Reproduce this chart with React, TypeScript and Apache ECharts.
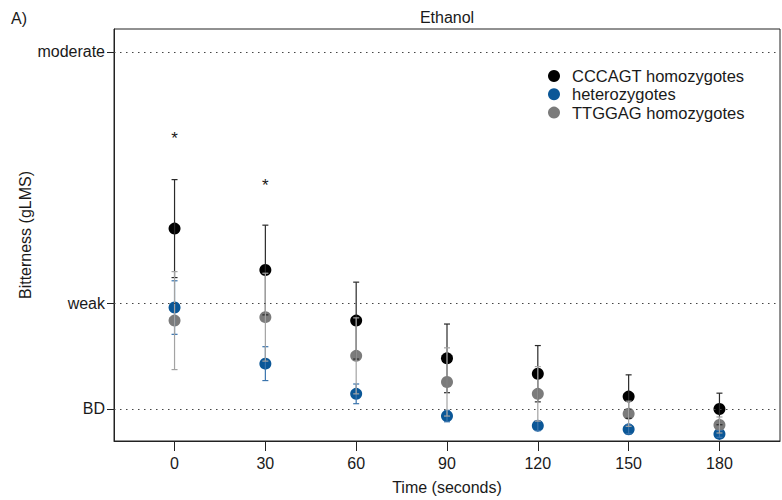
import React, { useEffect, useRef } from "react";
import * as echarts from "echarts";

const timePoints = [0, 30, 60, 90, 120, 150, 180];
const cccagtMean = [9.28, 7.47, 5.26, 3.61, 2.94, 1.94, 1.4];
const cccagtErr = [2.14, 1.96, 1.68, 1.5, 1.23, 0.95, 0.69];
const hetMean = [5.83, 3.38, 2.06, 1.09, 0.67, 0.51, 0.31];
const hetErr = [1.17, 0.74, 0.43, 0.25, 0.22, 0.2, 0.15];
const ttggagMean = [5.26, 5.41, 3.72, 2.58, 2.06, 1.19, 0.7];
const ttggagErr = [2.14, 1.92, 1.66, 1.49, 1.19, 0.55, 0.35];
const starTimes = [0, 30];
const starLevels = [13.4, 11.33];
const yTickValues = [1.4, 6, 17];
const yTickLabels = ["BD", "weak", "moderate"];
const xTickValues = [0, 30, 60, 90, 120, 150, 180];
const seriesNames = ["CCCAGT homozygotes", "heterozygotes", "TTGGAG homozygotes"];
const pointColors = ["#000000", "#0b5797", "#7b7b7b"];
const errColors = ["#2a2a2a", "#3a74ad", "#a3a3a3"];

const FONT = "'Liberation Sans', Arial, Helvetica, sans-serif";
const TEXT = "#1a1a1a";

export default function App() {
  const ref = useRef<HTMLDivElement>(null);

  useEffect(() => {
    if (!ref.current) return;
    const chart = echarts.init(ref.current, null, { renderer: "svg" });

    const means = [cccagtMean, hetMean, ttggagMean];
    const errs = [cccagtErr, hetErr, ttggagErr];

    const errRender = (color: string) => (params: any, api: any) => {
      const x = api.value(0);
      const lo = api.value(1);
      const hi = api.value(2);
      const pLo = api.coord([x, lo]);
      const pHi = api.coord([x, hi]);
      const w = 3;
      const style = { stroke: color, lineWidth: 1.2, fill: "none" };
      return {
        type: "group",
        children: [
          { type: "line", shape: { x1: pLo[0], y1: pLo[1], x2: pHi[0], y2: pHi[1] }, style },
          { type: "line", shape: { x1: pHi[0] - w, y1: pHi[1], x2: pHi[0] + w, y2: pHi[1] }, style },
          { type: "line", shape: { x1: pLo[0] - w, y1: pLo[1], x2: pLo[0] + w, y2: pLo[1] }, style },
        ],
      };
    };

    const scatterSeries = seriesNames.map((name, i) => ({
      name,
      type: "scatter",
      symbol: "circle",
      symbolSize: 12,
      z: 2,
      itemStyle: { color: pointColors[i], opacity: 1 },
      data: timePoints.map((t, j) => [t, means[i][j]]),
      ...(i === 0
        ? {
            markLine: {
              silent: true,
              symbol: ["none", "none"],
              label: { show: false },
              lineStyle: { type: [1.5, 4.5], color: "#444", width: 1.2 },
              data: yTickValues.map((v) => ({ yAxis: v })),
            },
          }
        : {}),
    }));

    const errSeries = seriesNames.map((name, i) => ({
      name: name + " error",
      type: "custom",
      z: 3,
      renderItem: errRender(errColors[i]),
      encode: { x: 0, y: [1, 2] },
      data: timePoints.map((t, j) => [t, means[i][j] - errs[i][j], means[i][j] + errs[i][j]]),
    }));

    const starSeries = {
      name: "significance",
      type: "custom",
      z: 4,
      renderItem: (params: any, api: any) => {
        const p = api.coord([api.value(0), api.value(1)]);
        return {
          type: "text",
          x: p[0],
          y: p[1] + 4,
          style: {
            text: "*",
            fill: TEXT,
            font: `17px ${FONT}`,
            textAlign: "center",
            textVerticalAlign: "middle",
            align: "center",
            verticalAlign: "middle",
          },
        };
      },
      data: starTimes.map((t, j) => [t, starLevels[j]]),
    };

    chart.setOption({
      animation: false,
      textStyle: { fontFamily: FONT, color: TEXT },
      grid: {
        left: 114,
        right: 2,
        top: 29,
        bottom: 59,
        show: true,
        borderColor: "#222",
        borderWidth: 1,
        backgroundColor: "transparent",
      },
      graphic: [
        {
          type: "text",
          x: 11,
          y: 18,
          style: { text: "A)", fill: TEXT, font: `16px ${FONT}`, textVerticalAlign: "middle", verticalAlign: "middle" },
        },
        {
          type: "text",
          x: 447,
          y: 17,
          style: {
            text: "Ethanol",
            fill: TEXT,
            font: `16px ${FONT}`,
            textAlign: "center",
            align: "center",
            textVerticalAlign: "middle",
            verticalAlign: "middle",
          },
        },
      ],
      legend: {
        show: true,
        data: seriesNames,
        orient: "vertical",
        left: 543,
        top: 62.5,
        icon: "circle",
        itemWidth: 26,
        itemHeight: 12,
        itemGap: 1.3,
        textStyle: { fontSize: 16.5, color: TEXT, fontFamily: FONT },
      },
      xAxis: {
        type: "value",
        min: -20,
        max: 200,
        name: "Time (seconds)",
        nameLocation: "middle",
        nameGap: 38,
        nameMoveOverlap: false,
        nameTextStyle: { fontSize: 16, color: TEXT, fontFamily: FONT },
        axisLine: { show: true, onZero: false, lineStyle: { color: "#222", width: 1 } },
        axisTick: { show: true, length: 10, customValues: xTickValues, lineStyle: { color: "#222" } },
        axisLabel: { customValues: xTickValues, fontSize: 16, color: TEXT, margin: 14, fontFamily: FONT },
        splitLine: { show: false },
      },
      yAxis: {
        type: "value",
        min: 0,
        max: 18,
        name: "Bitterness (gLMS)",
        nameLocation: "middle",
        nameGap: 81,
        nameMoveOverlap: false,
        nameTextStyle: { fontSize: 16, color: TEXT, fontFamily: FONT },
        axisLine: { show: true, onZero: false, lineStyle: { color: "#222", width: 1 } },
        axisTick: { show: true, length: 7, customValues: yTickValues, lineStyle: { color: "#222" } },
        axisLabel: {
          customValues: yTickValues,
          fontSize: 16,
          color: TEXT,
          margin: 9,
          fontFamily: FONT,
          formatter: (v: number) => {
            const idx = yTickValues.findIndex((t) => Math.abs(t - v) < 1e-6);
            return idx >= 0 ? yTickLabels[idx] : "";
          },
        },
        splitLine: { show: false },
      },
      series: [...scatterSeries, ...errSeries, starSeries],
    });

    return () => chart.dispose();
  }, []);

  return (
    <div
      ref={ref}
      style={{ position: "fixed", left: 0, top: 0, width: 782, height: 500, background: "#fff" }}
    />
  );
}
